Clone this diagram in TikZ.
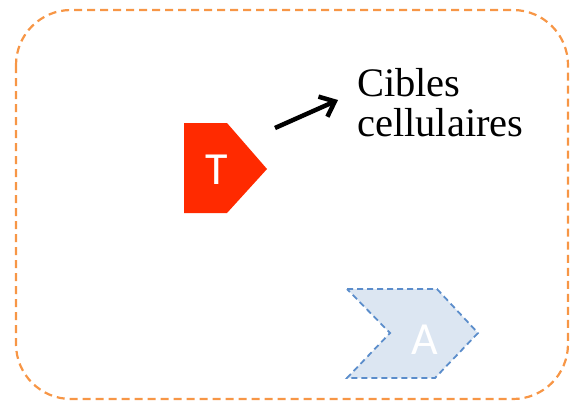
\documentclass[tikz,border=0pt]{standalone}
\usepackage{fontspec}
\setmainfont{Liberation Serif}
\newfontfamily\calib{Carlito}
\usetikzlibrary{arrows.meta, positioning}
\definecolor{frameorange}{HTML}{F79646}
\definecolor{tred}{HTML}{FF2A00}
\definecolor{afill}{HTML}{DCE6F2}
\definecolor{aline}{HTML}{5B8DCB}

\begin{document}
\begin{tikzpicture}[x=1pt, y=-1pt,
    letter/.style={text=white, font=\calib\fontsize{46}{46}\selectfont, inner sep=0pt}]
\useasboundingbox (0,0) rectangle (572,402);

% cadre
\draw[frameorange, line width=2.2pt, dash pattern=on 8pt off 5pt, rounded corners=55pt]
    (16,10) rectangle (568,399);

% T
\fill[tred] (184,123)--(227,123)--(267,169)--(227,213)--(184,213)--cycle;
\node[letter] (t) at (217,170) {T};

% A
\draw[aline, fill=afill, line width=1.8pt, dash pattern=on 6pt off 4pt]
    (347,289)--(437,289)--(478,333)--(435,378)--(347,378)--(390,333)--cycle;
\node[letter] (a) at (425,340) {A};

% cibles
\node[anchor=north west, inner sep=0pt, align=left,
    font=\fontsize{40.5}{38}\selectfont] (cibles) at (357,68) {Cibles\\[2pt]cellulaires};
\coordinate (tail) at (275,128);
\coordinate (tip) at (338,100);
\draw[line width=4.5pt, -{Straight Barb[length=13pt, width=22pt, line width=4.5pt]}] (tail)--(tip);

\end{tikzpicture}
\end{document}
